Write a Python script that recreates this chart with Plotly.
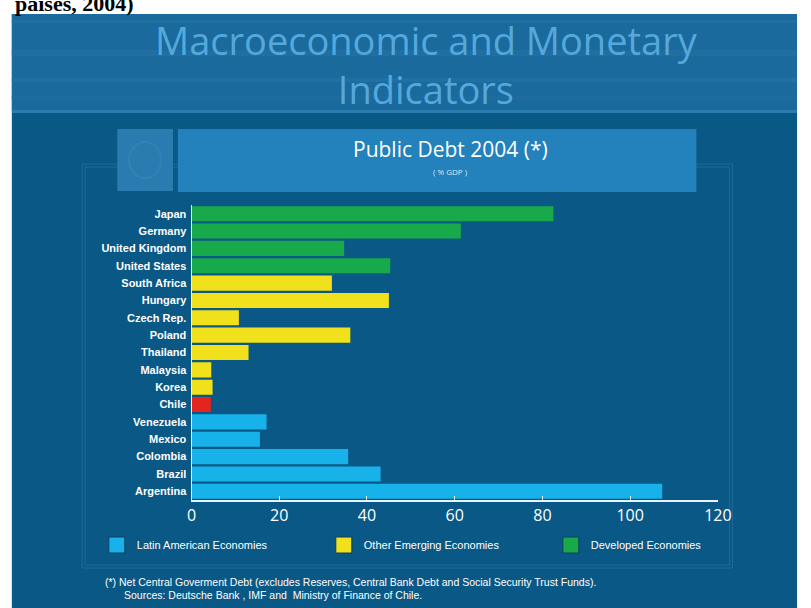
import plotly.graph_objects as go

# ---- data (top to bottom) ----
countries = ["Japan", "Germany", "United Kingdom", "United States", "South Africa",
             "Hungary", "Czech Rep.", "Poland", "Thailand", "Malaysia", "Korea",
             "Chile", "Venezuela", "Mexico", "Colombia", "Brazil", "Argentina"]
debt = [82.5, 61.4, 34.8, 45.3, 32.0, 45.0, 10.8, 36.2, 13.0, 4.5, 4.8,
        4.4, 17.1, 15.6, 35.7, 43.1, 107.3]
groups = ["Developed", "Developed", "Developed", "Developed", "Emerging",
          "Emerging", "Emerging", "Emerging", "Emerging", "Emerging", "Emerging",
          "Chile", "Latin", "Latin", "Latin", "Latin", "Latin"]
group_names = {"Latin": "Latin American Economies",
               "Emerging": "Other Emerging Economies",
               "Developed": "Developed Economies"}
group_colors = {"Latin": "#17b2ea", "Emerging": "#f0e11c",
                "Developed": "#18a94b", "Chile": "#e4241f"}
x_ticks = [0, 20, 40, 60, 80, 100, 120]

W, H = 811, 608
def px(x):
    return x / W
def py(y):
    return 1 - y / H

fig = go.Figure()

# bars, one trace per group
for g in ["Developed", "Emerging", "Chile", "Latin"]:
    ys = [c for c, gg in zip(countries, groups) if gg == g]
    xs = [v for v, gg in zip(debt, groups) if gg == g]
    fig.add_trace(go.Bar(x=xs, y=ys, orientation="h",
                         marker=dict(color=group_colors[g], line=dict(width=0)),
                         showlegend=False, hoverinfo="x+y"))

# legend proxies
for g in ["Latin", "Emerging", "Developed"]:
    fig.add_trace(go.Scatter(x=[None], y=[None], mode="markers",
                             name=group_names[g],
                             marker=dict(symbol="square", size=16,
                                         color=group_colors[g],
                                         line=dict(color="#0a3f63", width=1))))

slide_bg = "#0a5885"
band_bg = "#1a6a9d"
shapes = []
# slide background
shapes.append(dict(type="rect", xref="paper", yref="paper", x0=px(7), x1=1,
                   y0=0, y1=py(14), fillcolor=slide_bg, line=dict(width=0), layer="below"))
# top band
shapes.append(dict(type="rect", xref="paper", yref="paper", x0=px(7), x1=1,
                   y0=py(110), y1=py(14), fillcolor=band_bg, line=dict(width=0), layer="below"))
for (a, b, c) in [(20, 23, "#1f70a3"), (50, 56, "#216fa2"), (78, 82, "#1f70a3"),
                  (96, 99, "#1d6c9f"), (110, 113, "#2a7db0")]:
    shapes.append(dict(type="rect", xref="paper", yref="paper", x0=px(7), x1=1,
                       y0=py(b), y1=py(a), fillcolor=c, line=dict(width=0), layer="below"))
# panel outline (double)
for off in [0, 3]:
    shapes.append(dict(type="rect", xref="paper", yref="paper",
                       x0=px(79 + off), x1=px(745 - off), y0=py(568 - off), y1=py(164 + off),
                       fillcolor="rgba(0,0,0,0)", line=dict(color="#1e6a98", width=1),
                       layer="below"))
# title box + icon
shapes.append(dict(type="rect", xref="paper", yref="paper", x0=px(115), x1=px(172),
                   y0=py(191), y1=py(129), fillcolor="#2a7cb0", line=dict(width=0), layer="below"))
shapes.append(dict(type="circle", xref="paper", yref="paper", x0=px(127), x1=px(160),
                   y0=py(178), y1=py(142), fillcolor="rgba(0,0,0,0)",
                   line=dict(color="#3282b5", width=2), layer="below"))
shapes.append(dict(type="rect", xref="paper", yref="paper", x0=px(177), x1=px(708),
                   y0=py(192), y1=py(129), fillcolor="#2381bb", line=dict(width=0), layer="below"))

annotations = [
    dict(text="<b>países, 2004)</b>", x=px(8), y=py(18), xref="paper", yref="paper",
         xanchor="left", yanchor="bottom", showarrow=False,
         font=dict(family="Liberation Serif", size=22, color="black")),
    dict(text="Macroeconomic and Monetary<br>Indicators", x=px(432), y=py(64),
         xref="paper", yref="paper", xanchor="center", yanchor="middle", showarrow=False,
         font=dict(family="Open Sans", size=38, color="#55a8dc")),
    dict(text="Public Debt 2004 (*)", x=px(456), y=py(149), xref="paper", yref="paper",
         xanchor="center", yanchor="middle", showarrow=False,
         font=dict(family="Open Sans", size=21, color="white")),
    dict(text="( % GDP )", x=px(456), y=py(171), xref="paper", yref="paper",
         xanchor="center", yanchor="middle", showarrow=False,
         font=dict(family="Open Sans", size=8, color="#dbe9f4")),
    dict(text="(*) Net Central Goverment Debt (excludes Reserves, Central Bank Debt and Social Security Trust Funds).",
         x=px(100), y=py(582), xref="paper", yref="paper",
         xanchor="left", yanchor="middle", showarrow=False,
         font=dict(family="Liberation Sans", size=10.5, color="white")),
    dict(text="Sources: Deutsche Bank , IMF and  Ministry of Finance of Chile.",
         x=px(120), y=py(595), xref="paper", yref="paper",
         xanchor="left", yanchor="middle", showarrow=False,
         font=dict(family="Liberation Sans", size=10.5, color="white")),
]

fig.update_layout(
    width=W, height=H,
    margin=dict(l=0, r=0, t=0, b=0),
    paper_bgcolor="white",
    plot_bgcolor="rgba(0,0,0,0)",
    barmode="relative",
    bargap=0.13,
    shapes=shapes,
    annotations=annotations,
    showlegend=True,
    legend=dict(orientation="h", x=px(94), y=py(545), xanchor="left", yanchor="middle",
                bgcolor="rgba(0,0,0,0)", entrywidth=182, entrywidthmode="pixels",
                font=dict(family="Liberation Sans", size=11, color="white"),
                itemclick=False, itemdoubleclick=False),
    xaxis=dict(domain=[px(191), px(730)], range=[0, 120], tickvals=x_ticks,
               showgrid=False, zeroline=False, showline=True, linecolor="#e8f2f8",
               linewidth=2, ticks="inside", ticklen=4, tickcolor="#e8f2f8",
               tickfont=dict(family="Open Sans", size=16, color="white"),
               anchor="y", fixedrange=True),
    yaxis=dict(domain=[py(500), py(205)], type="category",
               categoryorder="array", categoryarray=countries,
               autorange="reversed", showgrid=False, zeroline=False,
               showline=True, linecolor="#e8f2f8", linewidth=1, ticks="",
               ticklabelstandoff=2,
               tickfont=dict(family="Liberation Sans", size=11, color="white", weight="bold"),
               anchor="x", fixedrange=True),
)

fig.write_html("out.html")
